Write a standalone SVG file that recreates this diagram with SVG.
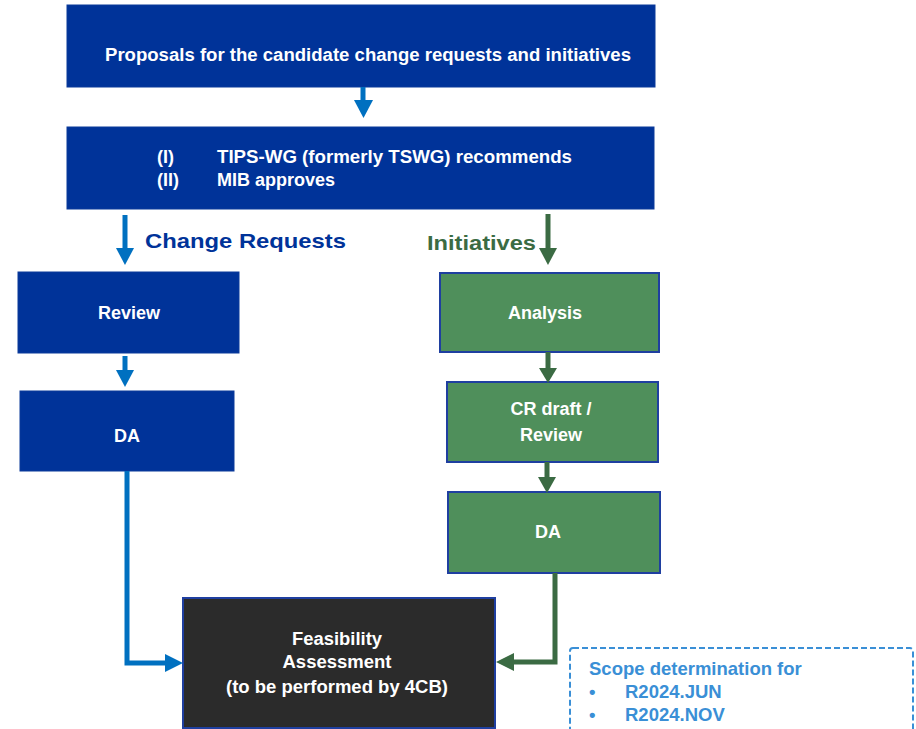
<svg xmlns="http://www.w3.org/2000/svg" width="916" height="729" viewBox="0 0 916 729">
<defs>
<style>
.blue{fill:#003399;stroke:#0b3a9a;stroke-width:1}
.green{fill:#4f8f5b;stroke:#1f3fa0;stroke-width:2}
.dark{fill:#2b2b2b;stroke:#1f3fa0;stroke-width:2}
.wt{fill:#ffffff;font-family:"Liberation Sans",Arial,sans-serif;font-weight:bold;font-size:18px}
.ft{fill:#ffffff;font-family:"Liberation Sans",Arial,sans-serif;font-weight:bold;font-size:18px;text-anchor:middle}
.bl{stroke:#0070c0;stroke-width:5;fill:none}
.gl{stroke:#3b6b43;stroke-width:5;fill:none}
.bh{fill:#0070c0}
.gh{fill:#3b6b43}
.scope{fill:#3a8fd6;font-family:"Liberation Sans",Arial,sans-serif;font-weight:bold;font-size:18.5px}
</style>
</defs>
<rect width="916" height="729" fill="#ffffff"/>

<g id="proposals">
<rect class="blue" x="67" y="5" width="588" height="82"/>
<text class="wt" x="105" y="61" font-size="17" textLength="526" lengthAdjust="spacingAndGlyphs">Proposals for the candidate change requests and initiatives</text>
</g>

<g id="recommend">
<rect class="blue" x="67" y="127" width="587" height="82"/>
<text class="wt" x="157" y="163">(I)</text>
<text class="wt" x="217" y="163" textLength="355" lengthAdjust="spacingAndGlyphs">TIPS-WG (formerly TSWG) recommends</text>
<text class="wt" x="157" y="186">(II)</text>
<text class="wt" x="217" y="186">MIB approves</text>
</g>

<g id="label-cr">
<text x="145" y="248" fill="#003399" font-family="Liberation Sans, Arial, sans-serif" font-weight="bold" font-size="21" textLength="201" lengthAdjust="spacingAndGlyphs">Change Requests</text>
</g>
<g id="label-init">
<text x="427" y="250" fill="#3b6b43" font-family="Liberation Sans, Arial, sans-serif" font-weight="bold" font-size="20" textLength="109" lengthAdjust="spacingAndGlyphs">Initiatives</text>
</g>

<g id="review">
<rect class="blue" x="18" y="272" width="221" height="81"/>
<text class="wt" x="129" y="319" text-anchor="middle">Review</text>
</g>

<g id="da-cr">
<rect class="blue" x="20" y="391" width="214" height="80"/>
<text class="wt" x="127" y="442" text-anchor="middle">DA</text>
</g>

<g id="analysis">
<rect class="green" x="440" y="273" width="219" height="79"/>
<text class="wt" x="545" y="319" text-anchor="middle">Analysis</text>
</g>

<g id="crdraft">
<rect class="green" x="447" y="382" width="211" height="80"/>
<text class="wt" x="551" y="415" text-anchor="middle">CR draft /</text>
<text class="wt" x="551" y="441" text-anchor="middle">Review</text>
</g>

<g id="da-init">
<rect class="green" x="448" y="492" width="212" height="81"/>
<text class="wt" x="548" y="538" text-anchor="middle">DA</text>
</g>

<g id="feasibility">
<rect class="dark" x="183" y="598" width="312" height="130"/>
<text class="ft" x="337" y="645" textLength="90" lengthAdjust="spacingAndGlyphs">Feasibility</text>
<text class="ft" x="337" y="668" textLength="109" lengthAdjust="spacingAndGlyphs">Assessment</text>
<text class="ft" x="337" y="693" textLength="222" lengthAdjust="spacingAndGlyphs">(to be performed by 4CB)</text>
</g>

<g id="scope">
<rect x="570" y="648" width="343" height="90" rx="3" fill="none" stroke="#3a8fd6" stroke-width="2" stroke-dasharray="6,3"/>
<text class="scope" x="589" y="675">Scope determination for</text>
<text class="scope" x="589" y="698">•</text>
<text class="scope" x="625" y="698">R2024.JUN</text>
<text class="scope" x="589" y="721">•</text>
<text class="scope" x="625" y="721">R2024.NOV</text>
</g>

<g id="connectors">
<line class="bl" x1="363" y1="87" x2="363" y2="102"/>
<polygon class="bh" points="354,100 373,100 363.5,118"/>

<line class="bl" x1="125" y1="215" x2="125" y2="250"/>
<polygon class="bh" points="116,248 134,248 125,265"/>

<line class="gl" x1="548" y1="214" x2="548" y2="250"/>
<polygon class="gh" points="539,248 557,248 548,265"/>

<line class="bl" x1="125" y1="356" x2="125" y2="372"/>
<polygon class="bh" points="116,370 134,370 125,387"/>

<line class="gl" x1="548" y1="352" x2="548" y2="370"/>
<polygon class="gh" points="539,368 557,368 548,383"/>

<line class="gl" x1="547" y1="462" x2="547" y2="479"/>
<polygon class="gh" points="538,477 556,477 547,493"/>

<polyline class="bl" points="127,471 127,663 167,663"/>
<polygon class="bh" points="165,654 165,672 183,663"/>

<polyline class="gl" points="555,573 555,662 512,662"/>
<polygon class="gh" points="514,653 514,671 496,662"/>
</g>
</svg>
